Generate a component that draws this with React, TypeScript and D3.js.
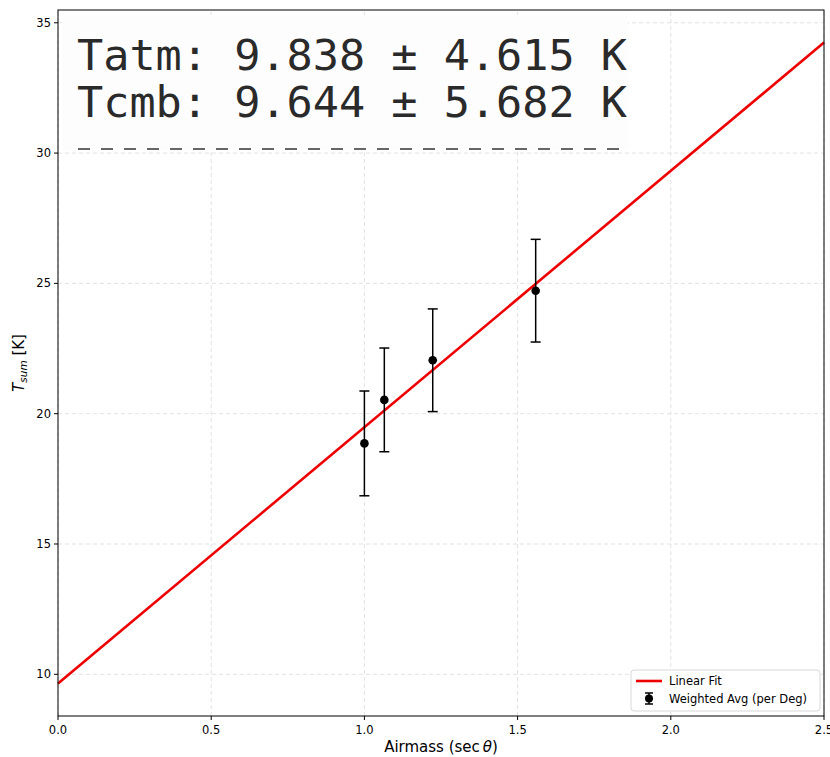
import React from 'react';
import * as d3 from 'd3';

// weighted average per elevation angle
const airmass = [1.0, 1.065, 1.223, 1.559];
const tsum = [18.86, 20.53, 22.05, 24.72];
const tsumErr = [2.01, 1.99, 1.97, 1.97];

// linear fit results
const fitSlope = 9.838;
const fitIntercept = 9.644;
const fitLines = ['Tatm: 9.838 ± 4.615 K', 'Tcmb: 9.644 ± 5.682 K'];

const xTicks = [0, 0.5, 1.0, 1.5, 2.0, 2.5];
const yTicks = [10, 15, 20, 25, 30, 35];

const width = 830;
const height = 757;
const margin = { top: 10, right: 6, bottom: 41, left: 58 };

const App = () => {
    const x = d3.scaleLinear()
        .domain([0, 2.5])
        .range([margin.left, width - margin.right]);
    const y = d3.scaleLinear()
        .domain([8.4, 35.49])
        .range([height - margin.bottom, margin.top]);

    const fit = d3.line<number>()
        .x(d => x(d))
        .y(d => y(fitIntercept + fitSlope * d));

    const x0 = margin.left;
    const x1 = width - margin.right;
    const y0 = height - margin.bottom;
    const y1 = margin.top;
    const font = 'DejaVu Sans, sans-serif';

    return (
        <svg width={width} height={height} style={{ position: 'absolute', left: 0, top: 0, background: '#fff' }}>
            {/* grid */}
            <g stroke="#dadada" strokeWidth={0.8} strokeDasharray="4,3">
                {xTicks.map(t => <line key={'gx' + t} x1={x(t)} x2={x(t)} y1={y0} y2={y1} />)}
                {yTicks.map(t => <line key={'gy' + t} x1={x0} x2={x1} y1={y(t)} y2={y(t)} />)}
            </g>

            {/* fit result text box */}
            <rect x={62} y={15} width={566} height={135} fill="#fdfdfd" />
            <g fontFamily="DejaVu Sans Mono, monospace" fontSize={43.5} fill="#2a2a2a">
                {fitLines.map((s, i) => (
                    <text key={s} x={77} y={70 + i * 47}>{s}</text>
                ))}
            </g>
            <line x1={78} x2={626} y1={149} y2={149} stroke="#666" strokeWidth={2} strokeDasharray="12,11" />

            {/* fit line */}
            <path d={fit([0, 2.5]) || ''} fill="none" stroke="#ee0000" strokeWidth={2.6} />

            {/* error bars */}
            <g stroke="#000" strokeWidth={1.5}>
                {airmass.map((a, i) => (
                    <g key={'e' + i}>
                        <line x1={x(a)} x2={x(a)} y1={y(tsum[i] - tsumErr[i])} y2={y(tsum[i] + tsumErr[i])} />
                        <line x1={x(a) - 5} x2={x(a) + 5} y1={y(tsum[i] - tsumErr[i])} y2={y(tsum[i] - tsumErr[i])} />
                        <line x1={x(a) - 5} x2={x(a) + 5} y1={y(tsum[i] + tsumErr[i])} y2={y(tsum[i] + tsumErr[i])} />
                    </g>
                ))}
            </g>
            {airmass.map((a, i) => (
                <circle key={'p' + i} cx={x(a)} cy={y(tsum[i])} r={4.3} fill="#000" />
            ))}

            {/* axes frame */}
            <rect x={x0} y={y1} width={x1 - x0} height={y0 - y1} fill="none" stroke="#000" strokeWidth={1} />

            {/* x ticks */}
            <g fontFamily={font} fontSize={11.5} fill="#000" textAnchor="middle">
                {xTicks.map(t => (
                    <g key={'xt' + t}>
                        <line x1={x(t)} x2={x(t)} y1={y0} y2={y0 + 4} stroke="#000" />
                        <text x={x(t)} y={y0 + 18}>{t.toFixed(1)}</text>
                    </g>
                ))}
            </g>
            {/* y ticks */}
            <g fontFamily={font} fontSize={11.5} fill="#000" textAnchor="end">
                {yTicks.map(t => (
                    <g key={'yt' + t}>
                        <line x1={x0 - 4} x2={x0} y1={y(t)} y2={y(t)} stroke="#000" />
                        <text x={x0 - 7} y={y(t) + 4}>{t}</text>
                    </g>
                ))}
            </g>

            {/* axis labels */}
            <text x={(x0 + x1) / 2} y={752} textAnchor="middle" fontFamily={font} fontSize={15}>
                Airmass (sec<tspan fontStyle="italic" dx={3}>θ</tspan>)
            </text>
            <text transform={`translate(24, ${(y0 + y1) / 2}) rotate(-90)`} textAnchor="middle" fontFamily={font} fontSize={15}>
                <tspan fontStyle="italic">T</tspan>
                <tspan fontStyle="italic" fontSize={10.5} dy={3}>sum</tspan>
                <tspan dy={-3}> [K]</tspan>
            </text>

            {/* legend */}
            <g fontFamily={font} fontSize={11.5}>
                <rect x={631} y={670} width={189} height={41} rx={3} fill="#fff" fillOpacity={0.85} stroke="#d8d8d8" />
                <line x1={636} x2={662} y1={681} y2={681} stroke="#ee0000" strokeWidth={2.6} />
                <text x={669} y={685}>Linear Fit</text>
                <line x1={649} x2={649} y1={693} y2={704} stroke="#000" strokeWidth={1.5} />
                <line x1={645} x2={653} y1={693} y2={693} stroke="#000" strokeWidth={1.5} />
                <line x1={645} x2={653} y1={704} y2={704} stroke="#000" strokeWidth={1.5} />
                <circle cx={649} cy={698.5} r={4} fill="#000" />
                <text x={669} y={703}>Weighted Avg (per Deg)</text>
            </g>
        </svg>
    );
};

export default App;
